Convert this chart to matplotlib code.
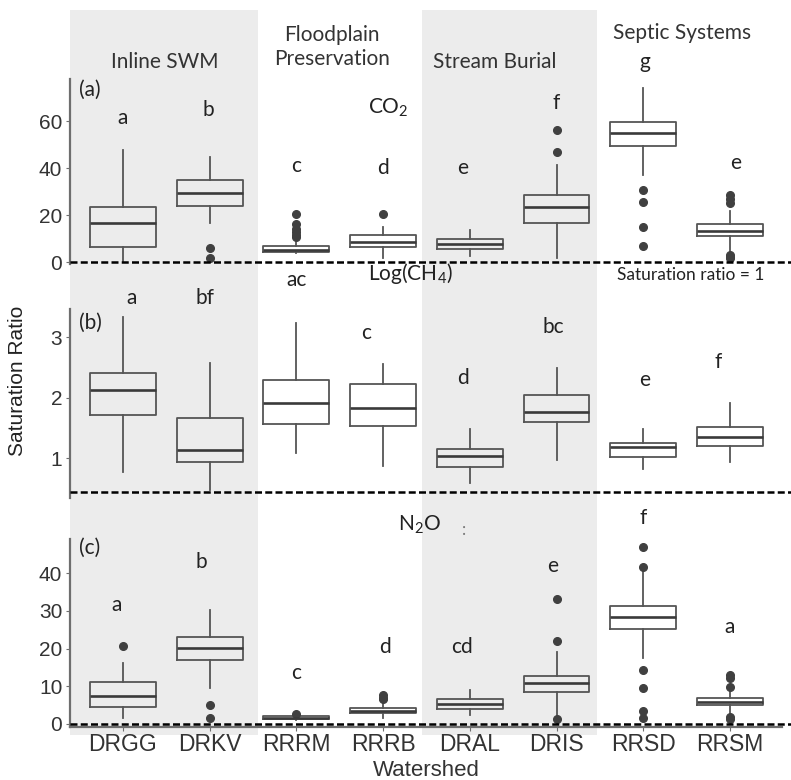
import numpy as np
import matplotlib
matplotlib.use("Agg")
import matplotlib.pyplot as plt
from matplotlib.patches import Rectangle

plt.rcParams['font.family'] = ['Lato', 'DejaVu Sans']

sites = ["DRGG", "DRKV", "RRRM", "RRRB", "DRAL", "DRIS", "RRSD", "RRSM"]
groups = ["Inline SWM", "Floodplain\nPreservation", "Stream Burial", "Septic Systems"]

# (a) CO2 saturation ratio
co2_whislo = [0.5, 16.6, 3.8, 1.7, 2.6, 1.7, 37.0, 3.8]
co2_q1     = [6.4, 23.8, 4.3, 6.4, 5.5, 16.6, 49.4, 11.1]
co2_med    = [16.6, 29.4, 5.3, 8.5, 7.6, 23.4, 54.9, 13.2]
co2_q3     = [23.4, 34.9, 6.8, 11.5, 9.6, 28.5, 59.6, 16.2]
co2_whishi = [47.7, 44.7, 8.5, 15.0, 13.6, 41.3, 74.0, 21.7]
co2_fliers = [[], [6.0, 1.7], [20.4, 16.2, 14.2, 12.6, 11.4, 10.6], [20.4], [],
              [56.0, 46.8], [30.6, 25.5, 14.9, 6.8], [28.5, 26.8, 25.1, 3.0, 2.1, 1.7]]
co2_letters = ["a", "b", "c", "d", "e", "f", "g", "e"]

# (b) Log(CH4) saturation ratio
ch4_whislo = [0.77, 0.47, 1.08, 0.87, 0.59, 0.97, 0.82, 0.93]
ch4_q1     = [1.71, 0.93, 1.56, 1.53, 0.85, 1.60, 1.02, 1.20]
ch4_med    = [2.12, 1.13, 1.91, 1.83, 1.03, 1.76, 1.18, 1.35]
ch4_q3     = [2.40, 1.66, 2.29, 2.22, 1.15, 2.04, 1.25, 1.51]
ch4_whishi = [3.33, 2.57, 3.23, 2.55, 1.48, 2.49, 1.48, 1.91]
ch4_fliers = [[], [], [], [], [], [], [], []]
ch4_letters = ["a", "bf", "ac", "c", "d", "bc", "e", "f"]

# (c) N2O saturation ratio
n2o_whislo = [1.6, 9.5, 1.0, 1.6, 2.4, 1.6, 17.5, 2.9]
n2o_q1     = [4.5, 17.0, 1.4, 2.9, 4.0, 8.5, 25.2, 5.0]
n2o_med    = [7.4, 20.2, 1.7, 3.5, 5.3, 10.9, 28.4, 5.8]
n2o_q3     = [11.1, 23.1, 2.1, 4.2, 6.6, 12.7, 31.3, 6.9]
n2o_whishi = [16.2, 30.2, 2.4, 5.6, 9.0, 19.1, 40.3, 9.0]
n2o_fliers = [[20.7], [5.0, 1.6], [2.7], [7.7, 6.9, 6.5], [], [33.2, 22.0, 1.3],
              [47.0, 41.6, 14.3, 9.5, 3.4, 1.6], [13.0, 12.2, 9.8, 1.9, 1.3]]
n2o_letters = ["a", "b", "c", "d", "cd", "e", "f", "a"]

# layout (pixels of the 791x780 canvas)
W, H = 791, 780
XLIM = (-0.61, 7.6)

fig = plt.figure(figsize=(W / 100, H / 100), dpi=100)


def px_axes(left, top, right, bottom, **kw):
    return fig.add_axes([left / W, 1 - bottom / H, (right - left) / W, (bottom - top) / H], **kw)


# background: shaded treatment groups + headers
bg = px_axes(70, 0, 782, 780)
bg.set_xlim(*XLIM)
bg.set_ylim(H, 0)
bg.axis('off')
for x0, x1 in [(-0.62, 1.56), (3.45, 5.47)]:
    bg.add_patch(Rectangle((x0, 10), x1 - x0, 725, color='#ececec', lw=0, zorder=0))
header_pos = [(0.48, 62), (2.41, 47), (4.29, 62), (6.45, 33)]
for g, (hx, hy) in zip(groups, header_pos):
    bg.text(hx, hy, g, ha='center', va='center', fontsize=15, color='#333333', linespacing=1.25)

panels = [
    dict(box=(79, 264), ylim=(-0.85, 77.9), ticks=[0, 20, 40, 60], dash=0.0,
         stats=(co2_whislo, co2_q1, co2_med, co2_q3, co2_whishi, co2_fliers),
         letters=co2_letters,
         lx=[0, 0.99, 2, 3, 3.92, 5.0, 6.02, 7.06],
         ly=[61.3, 64.7, 40.9, 40.0, 40.0, 67.7, 85.1, 42.1],
         tag="(a)", tagy=90, gas="CO$\\mathregular{_2}$", gasxy=(3.06, 108)),
    dict(box=(309, 498), ylim=(0.339, 3.463), ticks=[1, 2, 3], dash=0.44,
         stats=(ch4_whislo, ch4_q1, ch4_med, ch4_q3, ch4_whishi, ch4_fliers),
         letters=ch4_letters,
         lx=[0.10, 0.95, 2.0, 2.81, 3.92, 4.96, 6.02, 6.86],
         ly=[3.64, 3.64, 3.94, 3.07, 2.32, 3.17, 2.29, 2.59],
         tag="(b)", tagy=323, gas="Log(CH$\\mathregular{_4}$)", gasxy=(3.31, 273)),
    dict(box=(539, 727), ylim=(-0.8, 49.1), ticks=[0, 10, 20, 30, 40], dash=0.0,
         stats=(n2o_whislo, n2o_q1, n2o_med, n2o_q3, n2o_whishi, n2o_fliers),
         letters=n2o_letters,
         lx=[-0.07, 0.9, 2.0, 3.02, 3.91, 4.95, 6.0, 7.0],
         ly=[31.6, 43.0, 13.5, 20.4, 20.4, 41.9, 54.6, 25.7],
         tag="(c)", tagy=548, gas="N$\\mathregular{_2}$O", gasxy=(3.42, 525)),
]

axis_grey = '#6e6e6e'
for k, p in enumerate(panels):
    ax = px_axes(70, p['box'][0], 782, p['box'][1])
    ax.patch.set_alpha(0)
    wlo, q1, med, q3, whi, fl = p['stats']
    bstats = [dict(whislo=wlo[i], q1=q1[i], med=med[i], q3=q3[i], whishi=whi[i], fliers=fl[i])
              for i in range(len(sites))]
    ax.bxp(bstats, positions=range(len(sites)), widths=0.76, showcaps=False,
           boxprops=dict(color='#555555', lw=1.3),
           whiskerprops=dict(color='#555555', lw=1.3),
           medianprops=dict(color='#3a3a3a', lw=1.9),
           flierprops=dict(marker='o', markerfacecolor='#404040', markeredgecolor='#404040',
                           markersize=5.5))
    ax.set_xlim(*XLIM)
    ax.set_ylim(*p['ylim'])
    ax.plot([XLIM[0], 7.70], [p['dash'], p['dash']], ls=(0, (2.8, 1.3)), lw=1.8,
            color='black', clip_on=False, zorder=5)
    for s in ['top', 'right']:
        ax.spines[s].set_visible(False)
    ax.spines['left'].set_color(axis_grey)
    ax.spines['left'].set_linewidth(1.6)
    ax.set_yticks(p['ticks'])
    ax.tick_params(axis='y', direction='out', length=3, color=axis_grey, labelsize=15,
                   labelcolor='#333333', pad=2.5)
    for t in ax.get_yticklabels():
        t.set_family('Liberation Sans')
    if k < 2:
        ax.spines['bottom'].set_visible(False)
        ax.set_xticks([])
    else:
        ax.spines['bottom'].set_color(axis_grey)
        ax.spines['bottom'].set_linewidth(1.6)
        ax.set_xticks(range(len(sites)))
        ax.set_xticklabels(sites, family='Liberation Sans', fontsize=16.5, color='#333333')
        ax.tick_params(axis='x', direction='out', length=3, color=axis_grey, pad=1)
        ax.set_xlabel("Watershed", family='Liberation Sans', fontsize=16, color='#333333',
                      labelpad=3)
    for lab, x, y in zip(p['letters'], p['lx'], p['ly']):
        ax.text(x, y, lab, ha='center', va='center', fontsize=15, color='#222222', clip_on=False)
    bg.text(-0.38, p['tagy'], p['tag'], ha='center', va='center', fontsize=15, color='#222222')
    bg.text(p['gasxy'][0], p['gasxy'][1], p['gas'], ha='center', va='center', fontsize=15,
            color='#222222')

bg.text(3.93, 530, ":", ha='center', va='center', fontsize=12, color='#777777')
bg.text(6.55, 275, "Saturation ratio = 1", ha='center', va='center', fontsize=12.5,
        color='#222222')

fig.text(18 / W, 1 - 381 / H, "Saturation Ratio", rotation=90, ha='center', va='center',
         family='Liberation Sans', fontsize=15, color='#222222')

fig.savefig("out.png", dpi=100)
